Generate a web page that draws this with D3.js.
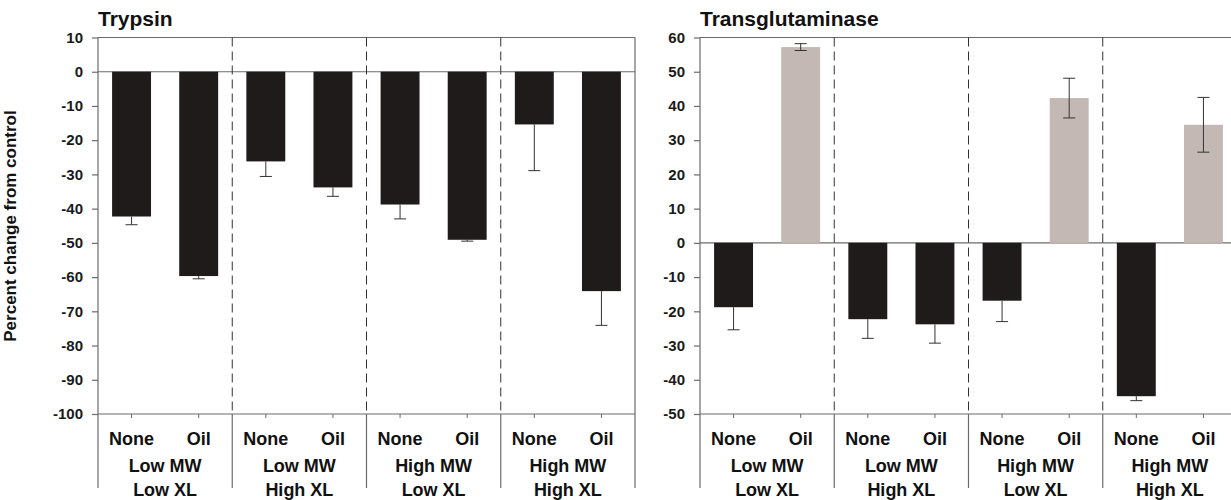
<!DOCTYPE html>
<html>
<head>
<meta charset="utf-8">
<script src="https://cdn.jsdelivr.net/npm/d3@7/dist/d3.min.js"></script>
<style>
  html, body { margin: 0; padding: 0; background: #fff; }
  svg { display: block; font-family: "Liberation Sans", Arial, Helvetica, sans-serif; }
</style>
</head>
<body>
<svg id="chart" width="1231" height="500"></svg>
<script>
// ---- data ----
const treatments = ["None", "Oil"];
const groupLine1 = ["Low MW", "Low MW", "High MW", "High MW"];
const groupLine2 = ["Low XL", "High XL", "Low XL", "High XL"];

const trypsinMean = [-42.3, -59.7, -26.2, -33.8, -38.8, -49.1, -15.4, -64.1];
const trypsinErr  = [2.4, 0.8, 4.4, 2.6, 4.2, 0.4, 13.5, 10.0];
const trypsinTicks = [10, 0, -10, -20, -30, -40, -50, -60, -70, -80, -90, -100];

const tgMean = [-18.8, 57.2, -22.3, -23.8, -16.9, 42.3, -44.8, 34.5];
const tgErr  = [6.6, 1.0, 5.6, 5.5, 6.1, 5.8, 1.3, 8.0];
const tgTicks = [60, 50, 40, 30, 20, 10, 0, -10, -20, -30, -40, -50];

const yAxisTitle = "Percent change from control";

// ---- drawing ----
const svg = d3.select("#chart");
const negColor = "#1f1b1b";
const posColor = "#c4b8b5";
const lineColor = "#6b6b6b";
const errColor = "#333";

function panel(opt) {
  const g = svg.append("g");
  const top = 37.5, bottom = 414;
  const y = d3.scaleLinear().domain([opt.ticks[0], opt.ticks[opt.ticks.length - 1]]).range([top, bottom]);
  const gIdx = d3.range(groupLine1.length);
  const xg = d3.scaleBand().domain(gIdx).range([opt.left, opt.right]).padding(0);
  const xt = d3.scaleBand().domain(treatments).range([0, xg.bandwidth()]).paddingInner(0.42).paddingOuter(0.21);

  const rows = [];
  gIdx.forEach(gi => treatments.forEach((t, ti) => {
    const k = gi * treatments.length + ti;
    rows.push({ gi, t, mean: opt.mean[k], err: opt.err[k] });
  }));

  // title
  g.append("text").attr("x", opt.left).attr("y", 26)
    .attr("font-size", 21).attr("font-weight", "bold").attr("fill", "#111")
    .text(opt.title);

  // y axis
  const yAxis = d3.axisLeft(y).tickValues(opt.ticks).tickSize(6).tickPadding(9).tickFormat(d => String(d));
  const ya = g.append("g").attr("transform", `translate(${opt.left},0)`).call(yAxis);
  ya.select(".domain").remove();
  ya.selectAll(".tick line").attr("stroke", lineColor).attr("stroke-width", 1.2);
  ya.selectAll(".tick text").attr("font-size", 15).attr("font-weight", "bold").attr("fill", "#1a1a1a")
    .attr("font-family", "'Liberation Sans', Arial, sans-serif");

  // frame lines
  [top, y(0), bottom].forEach(yy => {
    g.append("line").attr("x1", opt.left).attr("x2", opt.right).attr("y1", yy).attr("y2", yy)
      .attr("stroke", lineColor).attr("stroke-width", 1.2);
  });

  // vertical boundaries
  const bounds = gIdx.map(i => xg(i)).concat([opt.right]);
  bounds.forEach((bx, i) => {
    const outer = (i === 0 || i === bounds.length - 1);
    g.append("line").attr("x1", bx).attr("x2", bx).attr("y1", top).attr("y2", bottom)
      .attr("stroke", outer ? lineColor : "#333").attr("stroke-width", outer ? 1.2 : 1)
      .attr("stroke-dasharray", outer ? null : "9,5");
    g.append("line").attr("x1", bx).attr("x2", bx).attr("y1", bottom).attr("y2", 488)
      .attr("stroke", lineColor).attr("stroke-width", 1.2);
  });

  // bars
  g.selectAll("rect.bar").data(rows).join("rect").attr("class", "bar")
    .attr("x", d => xg(d.gi) + xt(d.t))
    .attr("width", xt.bandwidth())
    .attr("y", d => y(Math.max(0, d.mean)))
    .attr("height", d => Math.abs(y(d.mean) - y(0)))
    .attr("fill", d => d.mean >= 0 ? posColor : negColor);

  // error bars (negative bars: outward only; positive bars: both directions)
  const eb = g.selectAll("g.err").data(rows).join("g").attr("class", "err")
    .attr("transform", d => `translate(${xg(d.gi) + xt(d.t) + xt.bandwidth() / 2},0)`);
  eb.append("line").attr("x1", 0).attr("x2", 0)
    .attr("y1", d => d.mean >= 0 ? y(d.mean + d.err) : y(d.mean))
    .attr("y2", d => y(d.mean - d.err))
    .attr("stroke", errColor).attr("stroke-width", 1);
  eb.filter(d => d.mean >= 0).append("line").attr("x1", -6).attr("x2", 6)
    .attr("y1", d => y(d.mean + d.err)).attr("y2", d => y(d.mean + d.err))
    .attr("stroke", errColor).attr("stroke-width", 1);
  eb.append("line").attr("x1", -6).attr("x2", 6)
    .attr("y1", d => y(d.mean - d.err)).attr("y2", d => y(d.mean - d.err))
    .attr("stroke", errColor).attr("stroke-width", 1);

  // category ticks and labels
  rows.forEach(d => {
    const cx = xg(d.gi) + xt(d.t) + xt.bandwidth() / 2;
    g.append("line").attr("x1", cx).attr("x2", cx).attr("y1", bottom).attr("y2", bottom + 4)
      .attr("stroke", lineColor);
    g.append("text").attr("x", cx).attr("y", 445).attr("text-anchor", "middle")
      .attr("font-size", 18).attr("font-weight", "bold").attr("fill", "#111").text(d.t);
  });
  gIdx.forEach(i => {
    const cx = xg(i) + xg.bandwidth() / 2;
    g.append("text").attr("x", cx).attr("y", 472).attr("text-anchor", "middle")
      .attr("font-size", 18).attr("font-weight", "bold").attr("fill", "#111").text(groupLine1[i]);
    g.append("text").attr("x", cx).attr("y", 496).attr("text-anchor", "middle")
      .attr("font-size", 18).attr("font-weight", "bold").attr("fill", "#111").text(groupLine2[i]);
  });
}

panel({ title: "Trypsin", left: 98, right: 635, mean: trypsinMean, err: trypsinErr, ticks: trypsinTicks });
panel({ title: "Transglutaminase", left: 700, right: 1237, mean: tgMean, err: tgErr, ticks: tgTicks });

svg.append("text").attr("transform", "translate(16,226) rotate(-90)")
  .attr("text-anchor", "middle").attr("font-size", 17).attr("font-weight", "bold").attr("fill", "#111")
  .text(yAxisTitle);
</script>
</body>
</html>
